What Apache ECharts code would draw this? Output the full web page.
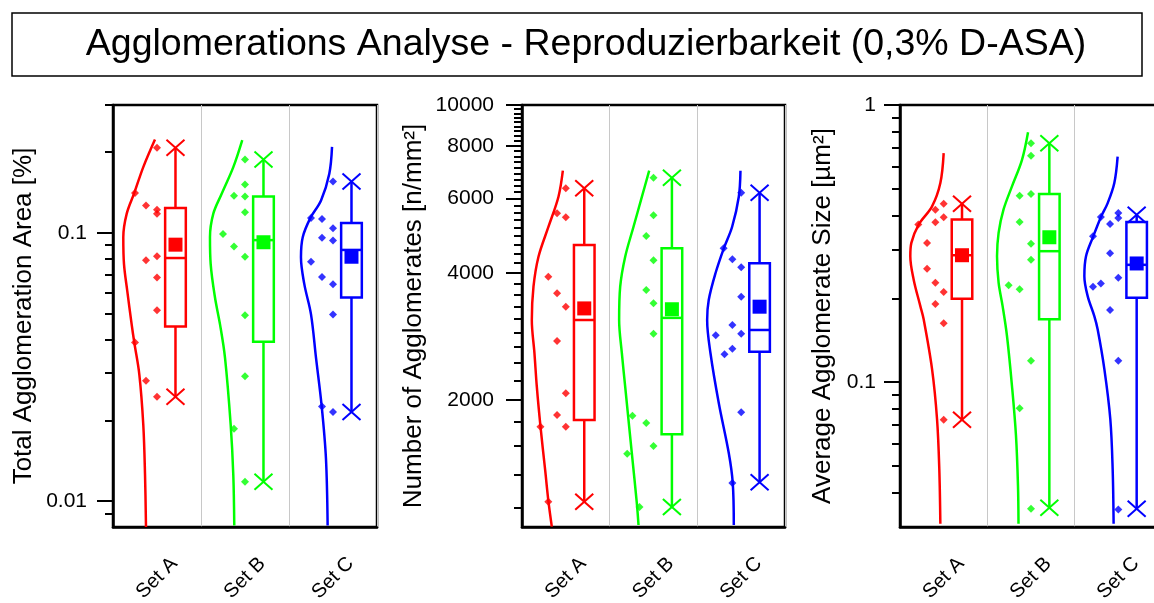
<!DOCTYPE html>
<html>
<head>
<meta charset="utf-8">
<script src="https://cdn.jsdelivr.net/npm/echarts@6/dist/echarts.min.js"></script>
<style>
  html, body { margin: 0; padding: 0; background: #fff; }
  #chart { width: 1154px; height: 603px; }
</style>
</head>
<body>
<div id="chart"></div>
<script>
var sets = ['Set A', 'Set B', 'Set C'];
var colors = ['#ff0000', '#00ff00', '#0000ff'];

// Total Agglomeration Area [%]
var areaValues = [
  [0.208, 0.141, 0.1265, 0.122, 0.118, 0.0818, 0.079, 0.0682, 0.0515, 0.039, 0.0281, 0.0245],
  [0.1877, 0.1517, 0.1376, 0.1368, 0.1195, 0.0991, 0.0889, 0.0815, 0.0493, 0.0292, 0.0186, 0.0118],
  [0.1556, 0.1136, 0.1128, 0.1041, 0.096, 0.0936, 0.0781, 0.0685, 0.0644, 0.0496, 0.0225, 0.0215]
];
var areaJitter = [
  [0, -0.25, -0.125, 0, 0, 0, -0.125, 0, 0, -0.25, -0.125, 0],
  [0, 0, -0.125, 0, 0, -0.25, -0.125, 0, 0, 0, -0.125, 0],
  [0, -0.25, -0.125, 0, -0.125, 0, -0.25, -0.125, 0, 0, -0.125, 0]
];
// min, q1, median, q3, max, mean
var areaBox = [
  [0.0245, 0.0448, 0.0806, 0.1238, 0.208, 0.0904],
  [0.0118, 0.0393, 0.094, 0.1368, 0.1877, 0.0923],
  [0.0215, 0.0574, 0.0864, 0.1088, 0.1556, 0.0815]
];
// distribution curve: [value, width]
var areaCurve = [
  [[0.223, 0.023], [0.176, 0.156], [0.141, 0.258], [0.118, 0.344], [0.0964, 0.383], [0.0765, 0.375], [0.0608, 0.338], [0.0456, 0.288], [0.039, 0.258], [0.0297, 0.201], [0.0193, 0.156], [0.0125, 0.136], [0.008, 0.125]],
  [[0.222, 0.031], [0.176, 0.133], [0.140, 0.265], [0.118, 0.360], [0.0964, 0.398], [0.0765, 0.390], [0.0574, 0.341], [0.0456, 0.284], [0.0342, 0.227], [0.0193, 0.163], [0.0125, 0.133], [0.0081, 0.122]],
  [[0.2094, 0.011], [0.1663, 0.042], [0.1321, 0.136], [0.1136, 0.258], [0.0964, 0.344], [0.0811, 0.364], [0.0644, 0.326], [0.0497, 0.250], [0.0342, 0.193], [0.0225, 0.128], [0.0144, 0.080], [0.0081, 0.061]]
];
var areaTicks = [0.01, 0.1];
var areaMinor = [0.009, 0.02, 0.03, 0.04, 0.05, 0.06, 0.07, 0.08, 0.09, 0.2, 0.3];

// Number of Agglomerates [n/mm²]
var countValues = [
  [6347, 5538, 5420, 3919, 3580, 3327, 2759, 2074, 1843, 1729, 1729, 1148],
  [6726, 5478, 4893, 4285, 3644, 3389, 2871, 1835, 1764, 1556, 1492, 1116],
  [6194, 4575, 4309, 4125, 3513, 3011, 2871, 2847, 2646, 2565, 1870, 1272]
];
var countJitter = [
  [0, -0.1, 0, -0.2, -0.1, 0, -0.1, 0, -0.1, -0.29, 0, -0.2],
  [0, 0, -0.083, 0, -0.083, 0, 0, -0.24, -0.083, 0, -0.3, -0.16],
  [0, -0.2, -0.1, 0, 0, -0.1, 0, -0.29, -0.1, -0.19, 0, -0.1]
];
var countBox = [
  [1148, 1793, 3094, 4656, 6347, 3296],
  [1116, 1658, 3130, 4575, 6726, 3281],
  [1276, 2603, 2930, 4216, 6194, 3327]
];
var countCurve = [
  [[6987, 0.034], [6063, 0.084], [5147, 0.198], [4370, 0.312], [3710, 0.369], [3094, 0.388], [2582, 0.358], [2150, 0.331], [1729, 0.289], [1365, 0.236], [1148, 0.198], [1002, 0.160]],
  [[6987, 0.049], [6063, 0.132], [5147, 0.228], [4370, 0.323], [3710, 0.380], [3094, 0.392], [2582, 0.361], [2150, 0.323], [1495, 0.247], [1138, 0.190], [1011, 0.171]],
  [[6987, 0.008], [6063, 0.027], [5147, 0.103], [4575, 0.198], [3993, 0.293], [3451, 0.370], [3094, 0.388], [2580, 0.350], [1964, 0.255], [1495, 0.141], [1272, 0.096], [1011, 0.084]]
];
var countTicks = [2000, 4000, 6000, 8000, 10000];
var countMinorStep = 2000 / 9;

// Average Agglomerate Size [µm²]
var sizeValues = [
  [0.4406, 0.4191, 0.3932, 0.3773, 0.3701, 0.318, 0.2564, 0.2284, 0.2113, 0.1912, 0.163, 0.0732],
  [0.728, 0.6554, 0.4772, 0.4707, 0.3784, 0.3155, 0.2763, 0.2234, 0.2161, 0.1193, 0.0804, 0.0349],
  [0.4078, 0.3945, 0.3913, 0.3723, 0.3358, 0.2918, 0.2379, 0.2271, 0.2209, 0.182, 0.1193, 0.0347]
];
var sizeJitter = [
  [0, -0.095, 0, -0.095, -0.29, -0.19, -0.19, -0.095, 0, -0.095, 0, 0],
  [0, 0, 0, -0.13, -0.13, 0, 0, -0.256, -0.13, 0, -0.13, 0],
  [0, -0.2, 0, -0.095, -0.29, -0.095, 0, -0.2, -0.29, -0.095, 0, 0]
];
var sizeBox = [
  [0.0732, 0.2, 0.287, 0.3858, 0.4406, 0.287],
  [0.0352, 0.1685, 0.2968, 0.4772, 0.728, 0.3332],
  [0.0349, 0.2017, 0.265, 0.3784, 0.402, 0.268]
];
var sizeCurve = [
  [[0.6704, 0.0], [0.5229, 0.038], [0.4307, 0.133], [0.3701, 0.286], [0.318, 0.370], [0.2846, 0.382], [0.2347, 0.344], [0.188, 0.267], [0.1685, 0.229], [0.1114, 0.133], [0.0736, 0.076], [0.0486, 0.050], [0.0308, 0.038]],
  [[0.7976, 0.034], [0.6341, 0.103], [0.5084, 0.218], [0.4191, 0.315], [0.3455, 0.371], [0.2846, 0.389], [0.2284, 0.371], [0.188, 0.325], [0.1467, 0.275], [0.097, 0.218], [0.0641, 0.172], [0.0423, 0.149], [0.0308, 0.143]],
  [[0.6516, 0.008], [0.5229, 0.046], [0.4426, 0.122], [0.3945, 0.199], [0.3358, 0.287], [0.2846, 0.370], [0.2411, 0.389], [0.2043, 0.351], [0.1731, 0.275], [0.1551, 0.237], [0.1114, 0.160], [0.0736, 0.092], [0.0486, 0.065], [0.0308, 0.054]]
];
var sizeTicks = [0.1, 1];
var sizeMinor = [0.04, 0.05, 0.06, 0.07, 0.08, 0.09, 0.2, 0.3, 0.4, 0.5, 0.6, 0.7, 0.8, 0.9];

var countMinor = [];
for (var k = 5; k < 45; k++) {
  if (k % 9 !== 0) countMinor.push(k * countMinorStep);
}

var log = function (v) { return Math.log10(v); };
var boxShift = 0.21, boxWidth = 0.235;
var font = '"Liberation Sans", Arial, sans-serif';

var panels = [
  { name: 'Total Agglomeration Area [%]', min: 0.008, max: 0.3, values: areaValues, jitter: areaJitter,
    box: areaBox, curve: areaCurve, ticks: areaTicks, minor: areaMinor, left: 113, width: 264, nameGap: 76, margin: 26 },
  { name: 'Number of Agglomerates [n/mm²]', min: 1000, max: 10000, values: countValues, jitter: countJitter,
    box: countBox, curve: countCurve, ticks: countTicks, minor: countMinor, left: 522, width: 263, nameGap: 95, margin: 28 },
  { name: 'Average Agglomerate Size [µm²]', min: 0.03, max: 1, values: sizeValues, jitter: sizeJitter,
    box: sizeBox, curve: sizeCurve, ticks: sizeTicks, minor: sizeMinor, left: 900, width: 262, nameGap: 64, margin: 24 }
];

function renderBox(color) {
  return function (params, api) {
    var x = api.value(0);
    var pMin = api.coord([x, api.value(1)]);
    var pQ1 = api.coord([x, api.value(2)]);
    var pMed = api.coord([x, api.value(3)]);
    var pQ3 = api.coord([x, api.value(4)]);
    var pMax = api.coord([x, api.value(5)]);
    var pMean = api.coord([x, api.value(6)]);
    var hw = api.size([boxWidth, 0])[0] / 2;
    var cx = pMin[0];
    function seg(x1, y1, x2, y2, w) {
      return { type: 'line', shape: { x1: x1, y1: y1, x2: x2, y2: y2 },
        style: { stroke: color, lineWidth: w || 2.5 } };
    }
    return {
      type: 'group',
      children: [
        seg(cx, pMax[1], cx, pQ3[1]),
        seg(cx, pQ1[1], cx, pMin[1]),
        { type: 'rect', shape: { x: cx - hw, y: pQ3[1], width: 2 * hw, height: pQ1[1] - pQ3[1] },
          style: { stroke: color, lineWidth: 2.5, fill: 'none' } },
        seg(cx - hw, pMed[1], cx + hw, pMed[1]),
        { type: 'rect', shape: { x: cx - 7, y: pMean[1] - 7, width: 14, height: 14 }, style: { fill: color } },
        seg(cx - 9, pMax[1] - 8, cx + 9, pMax[1] + 8, 2),
        seg(cx - 9, pMax[1] + 8, cx + 9, pMax[1] - 8, 2),
        seg(cx - 9, pMin[1] - 8, cx + 9, pMin[1] + 8, 2),
        seg(cx - 9, pMin[1] + 8, cx + 9, pMin[1] - 8, 2)
      ]
    };
  };
}

var grids = [], xAxes = [], yAxes = [], series = [];
panels.forEach(function (p, g) {
  grids.push({ left: p.left, top: 105, width: p.width, height: 422, show: true, outerBoundsMode: 'none',
    borderColor: '#000', borderWidth: 2.5, backgroundColor: 'transparent' });
  xAxes.push({
    type: 'category', gridIndex: g, position: 'bottom', data: sets, boundaryGap: true,
    axisLine: { onZero: false, lineStyle: { color: '#000', width: 2.5 } },
    axisTick: { alignWithLabel: true, length: 13, lineStyle: { color: '#000', width: 2 } },
    axisLabel: { interval: 0, rotate: 45, margin: 51, align: 'center', verticalAlign: 'middle',
      fontSize: 20, color: '#000' },
    splitLine: { show: false }
  });
  xAxes.push({
    type: 'value', gridIndex: g, position: 'top', min: 0, max: 3, interval: 1,
    axisLine: { show: false, onZero: false }, axisTick: { show: false }, axisLabel: { show: false },
    splitLine: { show: true, lineStyle: { color: '#c8c8c8', width: 1 } }
  });
  yAxes.push({
    type: 'value', gridIndex: g, position: 'left', min: log(p.min), max: log(p.max),
    name: p.name, nameLocation: 'middle', nameGap: p.nameGap,
    nameTextStyle: { fontSize: 26, color: '#000' },
    axisLine: { show: true, onZero: false, lineStyle: { color: '#000', width: 2.5 } },
    axisTick: { show: true, length: 16, customValues: p.ticks.map(log), lineStyle: { color: '#000', width: 2 } },
    axisLabel: { customValues: p.ticks.map(log), margin: p.margin, fontSize: 21, color: '#000',
      formatter: function (v) { return String(+Math.pow(10, v).toPrecision(4)); } },
    splitLine: { show: false }
  });
  yAxes.push({
    type: 'value', gridIndex: g, position: 'left', min: log(p.min), max: log(p.max),
    axisLine: { show: false, onZero: false },
    axisTick: { show: true, length: 8, customValues: p.minor.map(log), lineStyle: { color: '#000', width: 2 } },
    axisLabel: { show: false },
    splitLine: { show: false }
  });

  sets.forEach(function (s, i) {
    var c = colors[i];
    series.push({
      type: 'line', xAxisIndex: 2 * g + 1, yAxisIndex: 2 * g, silent: true,
      data: p.curve[i].map(function (d) { return [i + 0.5 - d[1], log(d[0])]; }),
      smooth: 0.35, showSymbol: false, symbol: 'none',
      lineStyle: { color: c, width: 2.5 }
    });
    series.push({
      type: 'scatter', xAxisIndex: 2 * g + 1, yAxisIndex: 2 * g, name: s,
      data: p.values[i].map(function (v, k) { return [i + 0.5 + p.jitter[i][k], log(v)]; }),
      symbol: 'diamond', symbolSize: 8, itemStyle: { color: c }
    });
    series.push({
      type: 'custom', xAxisIndex: 2 * g + 1, yAxisIndex: 2 * g, name: s,
      data: [[i + 0.5 + boxShift].concat(p.box[i].map(log))],
      renderItem: renderBox(c)
    });
  });
});

var myChart = echarts.init(document.getElementById('chart'));
myChart.setOption({
  animation: false,
  textStyle: { fontFamily: font },
  graphic: [
    { type: 'rect', z: -1, shape: { x: 12, y: 13, width: 1130, height: 63 },
      style: { fill: '#fff', stroke: '#000', lineWidth: 1.5 } },
    { type: 'text', x: 586, y: 45,
      style: { text: 'Agglomerations Analyse - Reproduzierbarkeit (0,3% D-ASA)',
        fontSize: 37.5, fontFamily: font, align: 'center', verticalAlign: 'middle', fill: '#000' } }
  ],
  grid: grids,
  xAxis: xAxes,
  yAxis: yAxes,
  series: series
});
</script>
</body>
</html>
